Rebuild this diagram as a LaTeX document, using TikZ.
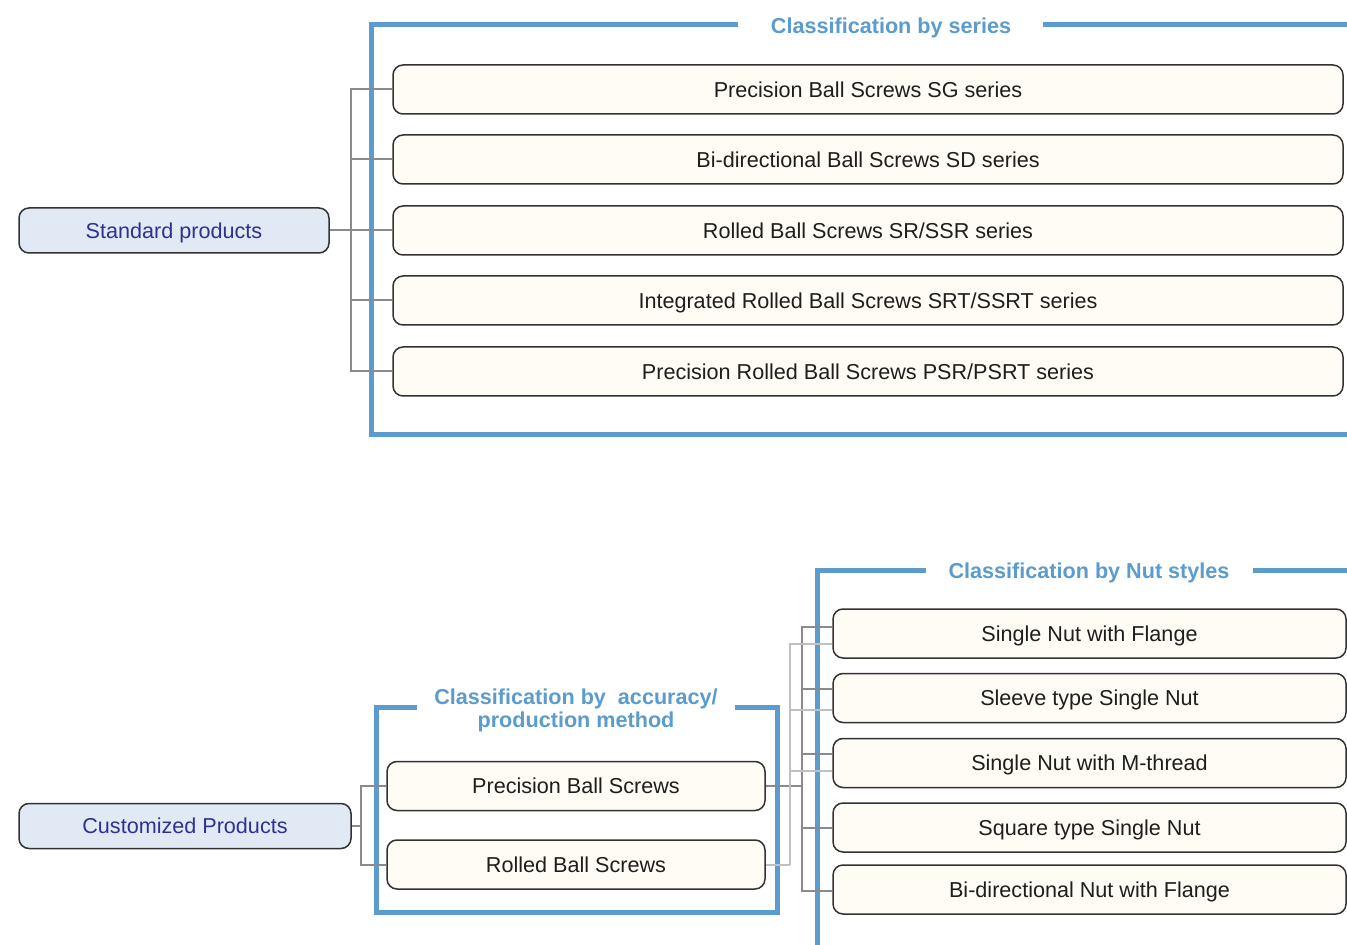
\documentclass[tikz,border=0pt]{standalone}
\usepackage{fontspec}
\setmainfont{Liberation Sans}
\definecolor{framblue}{RGB}{91,155,205}
\definecolor{boxline}{RGB}{50,50,50}
\definecolor{prodfill}{RGB}{225,233,245}
\definecolor{prodtext}{RGB}{46,49,146}
\definecolor{itemfill}{RGB}{255,252,245}
\definecolor{itemtext}{RGB}{30,30,30}
\definecolor{linkdark}{RGB}{138,138,138}
\definecolor{linklite}{RGB}{192,192,192}

\begin{document}
\begin{tikzpicture}[x=0.5pt,y=-0.5pt,
    prod/.style={draw=boxline,line width=0.75pt,rounded corners=5pt,fill=prodfill,text=prodtext,
      inner sep=0pt,minimum height=22.5pt,text height=7.6pt,text depth=0pt,font=\fontsize{10.8}{12.9}\selectfont},
    item/.style={draw=boxline,line width=0.75pt,rounded corners=5pt,fill=itemfill,text=itemtext,
      inner sep=0pt,minimum height=24.5pt,text height=7.6pt,text depth=0pt,font=\fontsize{10.8}{12.9}\selectfont},
    heading/.style={text=framblue,inner sep=0pt,align=center,font=\bfseries\fontsize{10.8}{11.5}\selectfont},
    frame/.style={draw=framblue,line width=2.5pt},
    link/.style={draw=linkdark,line width=1pt},
    linkl/.style={draw=linklite,line width=1pt}]
  \useasboundingbox (0,0) rectangle (1347,945);

  \draw[frame] (738,25) -| (371,435) -- (1347,435);
  \draw[frame] (1043,25) -- (1347,25);
  \draw[frame] (417,707) -| (376,912) -| (777,707) -- (735,707);
  \draw[frame] (926,570) -| (817,945);
  \draw[frame] (1253,570) -- (1347,570);

  \node[heading,text height=7.6pt,text depth=0pt] (ttlseries) at (891,26) {Classification by series};
  \node[heading] (ttlacc) at (576,710) {Classification by\ \ accuracy/\\production method};
  \node[heading,text height=7.6pt,text depth=0pt] (ttlnut) at (1089,570.5) {Classification by Nut styles};

  \node[prod,minimum width=155pt] (std) at (174,230.5) {Standard products};
  \node[item,minimum width=475pt] (s1) at (868,89.5) {Precision Ball Screws SG series};
  \node[item,minimum width=475pt] (s2) at (868,159.5) {Bi-directional Ball Screws SD series};
  \node[item,minimum width=475pt] (s3) at (868,230.5) {Rolled Ball Screws SR/SSR series};
  \node[item,minimum width=475pt] (s4) at (868,300.5) {Integrated Rolled Ball Screws SRT/SSRT series};
  \node[item,minimum width=475pt] (s5) at (868,371.5) {Precision Rolled Ball Screws PSR/PSRT series};

  \node[prod,minimum width=166pt] (cust) at (185,826) {Customized Products};
  \node[item,minimum width=189pt] (prec) at (576,786) {Precision Ball Screws};
  \node[item,minimum width=189pt] (roll) at (576,864.5) {Rolled Ball Screws};

  \node[item,minimum width=256.5pt] (nut1) at (1089.5,633.5) {Single Nut with Flange};
  \node[item,minimum width=256.5pt] (nut2) at (1089.5,698) {Sleeve type Single Nut};
  \node[item,minimum width=256.5pt] (nut3) at (1089.5,763) {Single Nut with M-thread};
  \node[item,minimum width=256.5pt] (nut4) at (1089.5,827.5) {Square type Single Nut};
  \node[item,minimum width=256.5pt] (nut5) at (1089.5,889.5) {Bi-directional Nut with Flange};

  \coordinate (sj) at (351,230.5);
  \draw[link] (std.east) -- (sj);
  \foreach \i in {1,...,5}
    \draw[link] (sj) |- (s\i.west);

  \coordinate (cj) at (361,826);
  \draw[link] (cust.east) -- (cj);
  \draw[link] (cj) |- (prec.west);
  \draw[link] (cj) |- (roll.west);

  \coordinate (pj) at (802,786);
  \draw[link] (prec.east) -- (pj);
  \foreach \i/\s in {1/3.5pt,2/4.5pt,3/4.5pt,4/0pt,5/-0.5pt}
    \draw[link] (pj) |- ([yshift=\s]nut\i.west);

  \coordinate (rj) at (790,864.5);
  \draw[linkl] (roll.east) -- (rj);
  \foreach \i/\s in {1/-5pt,2/-6pt,3/-4pt}
    \draw[linkl] (rj) |- ([yshift=\s]nut\i.west);
\end{tikzpicture}
\end{document}
